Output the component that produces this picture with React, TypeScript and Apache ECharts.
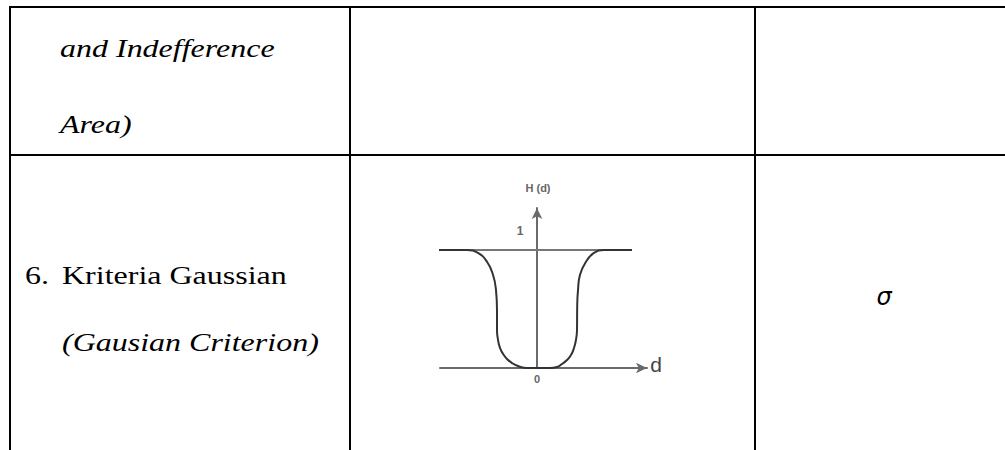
import React, { useEffect, useRef } from "react";
import * as echarts from "echarts";

// Gaussian criterion curve H(d)
const curveD = [-10.3, -7.0, -5.9, -5.0, -4.4, -4.1, -4.0, -4.0, -3.9, -3.7, -3.4, -3.0, -2.5, -1.9, -1.0, 1.3, 2.0, 2.5, 3.0, 3.4, 3.7, 3.9, 4.0, 4.02, 4.1, 4.3, 4.9, 5.7, 6.7, 9.5];
const curveH = [1, 1, 0.975, 0.9, 0.79, 0.66, 0.49, 0.32, 0.24, 0.17, 0.12, 0.076, 0.042, 0.017, 0, 0, 0.008, 0.034, 0.068, 0.11, 0.17, 0.24, 0.32, 0.52, 0.66, 0.79, 0.9, 0.975, 1, 1];
// level line H = 1
const levelD = [-10.3, 9.5];
const levelH = [1, 1];

const tableRow1 = ["and Indefference", "Area)"];
const tableRow2Num = "6.";
const tableRow2 = ["Kriteria Gaussian", "(Gausian Criterion)"];
const paramText = "σ";
const axisLabels = { y: "H (d)", one: "1", zero: "0", x: "d" };

export default function App() {
  const ref = useRef<HTMLDivElement>(null);
  useEffect(() => {
    if (!ref.current) return;
    const chart = echarts.init(ref.current, null, { renderer: "svg" });
    const serif = "'Liberation Serif', 'Times New Roman', serif";
    const sans = "'Liberation Sans', Arial, sans-serif";
    const sx = 1.28;
    const txt = (text: string, x: number, y: number, opts: any = {}) => ({
      type: "text",
      x,
      y,
      scaleX: opts.scaleX ?? 1,
      scaleY: opts.scaleY ?? 1,
      silent: true,
      style: {
        text,
        x: 0,
        y: 0,
        fill: opts.fill ?? "#000",
        font: opts.font,
        textAlign: opts.align ?? "left",
        textVerticalAlign: opts.valign ?? "alphabetic",
        textBaseline: opts.valign ?? "alphabetic",
      },
    });
    const ln = (x1: number, y1: number, x2: number, y2: number) => ({
      type: "line",
      silent: true,
      shape: { x1, y1, x2, y2 },
      style: { stroke: "#000", lineWidth: 2 },
    });
    const option: any = {
      animation: false,
      backgroundColor: "#fff",
      grid: { left: 440, width: 207, top: 208, height: 160, containLabel: false },
      xAxis: {
        type: "value",
        min: -9.7,
        max: 11,
        axisLine: {
          show: true,
          onZero: true,
          symbol: ["none", "arrow"],
          symbolSize: [8, 11],
          lineStyle: { color: "#6a6a6a", width: 2 },
        },
        axisTick: { show: false },
        axisLabel: { show: false },
        splitLine: { show: false },
      },
      yAxis: {
        type: "value",
        min: 0,
        max: 1.356,
        axisLine: {
          show: true,
          onZero: true,
          symbol: ["none", "arrow"],
          symbolSize: [8, 11],
          lineStyle: { color: "#6a6a6a", width: 2 },
        },
        axisTick: { show: false },
        axisLabel: { show: false },
        splitLine: { show: false },
      },
      series: [
        {
          type: "line",
          data: levelD.map((d, i) => [d, levelH[i]]),
          symbol: "none",
          clip: false,
          lineStyle: { color: "#777", width: 2 },
          silent: true,
        },
        {
          type: "line",
          data: curveD.map((d, i) => [d, curveH[i]]),
          symbol: "none",
          smooth: 0.5,
          clip: false,
          lineStyle: { color: "#333", width: 2 },
          silent: true,
        },
      ],
      graphic: [
        ln(9, 7, 1005, 7),
        ln(9, 155, 1005, 155),
        ln(10, 6, 10, 450),
        ln(350, 6, 350, 450),
        ln(755, 6, 755, 450),
        txt(tableRow1[0], 60, 36, { font: `italic 25px ${serif}`, scaleX: sx }),
        txt(tableRow1[1], 60, 112, { font: `italic 25px ${serif}`, scaleX: sx }),
        txt(tableRow2Num, 25, 263, { font: `25px ${serif}`, scaleX: sx }),
        txt(tableRow2[0], 62, 263, { font: `25px ${serif}`, scaleX: sx }),
        txt(tableRow2[1], 62, 330, { font: `italic 25px ${serif}`, scaleX: sx }),
        txt(paramText, 884, 297, { font: `italic 24px 'DejaVu Sans', sans-serif`, align: "center", valign: "middle" }),
        txt(axisLabels.y, 538, 188, { font: `bold 11px ${sans}`, fill: "#666", align: "center", valign: "middle" }),
        txt(axisLabels.one, 520, 231, { font: `bold 12px ${sans}`, fill: "#666", align: "center", valign: "middle" }),
        txt(axisLabels.zero, 537, 379, { font: `bold 11px ${sans}`, fill: "#666", align: "center", valign: "middle" }),
        txt(axisLabels.x, 656, 364, { font: `21px ${sans}`, fill: "#444", align: "center", valign: "middle" }),
      ],
    };
    chart.setOption(option);
    return () => chart.dispose();
  }, []);
  return (
    <div
      ref={ref}
      style={{ position: "fixed", left: 0, top: 0, width: 1005, height: 450, background: "#fff" }}
    />
  );
}
